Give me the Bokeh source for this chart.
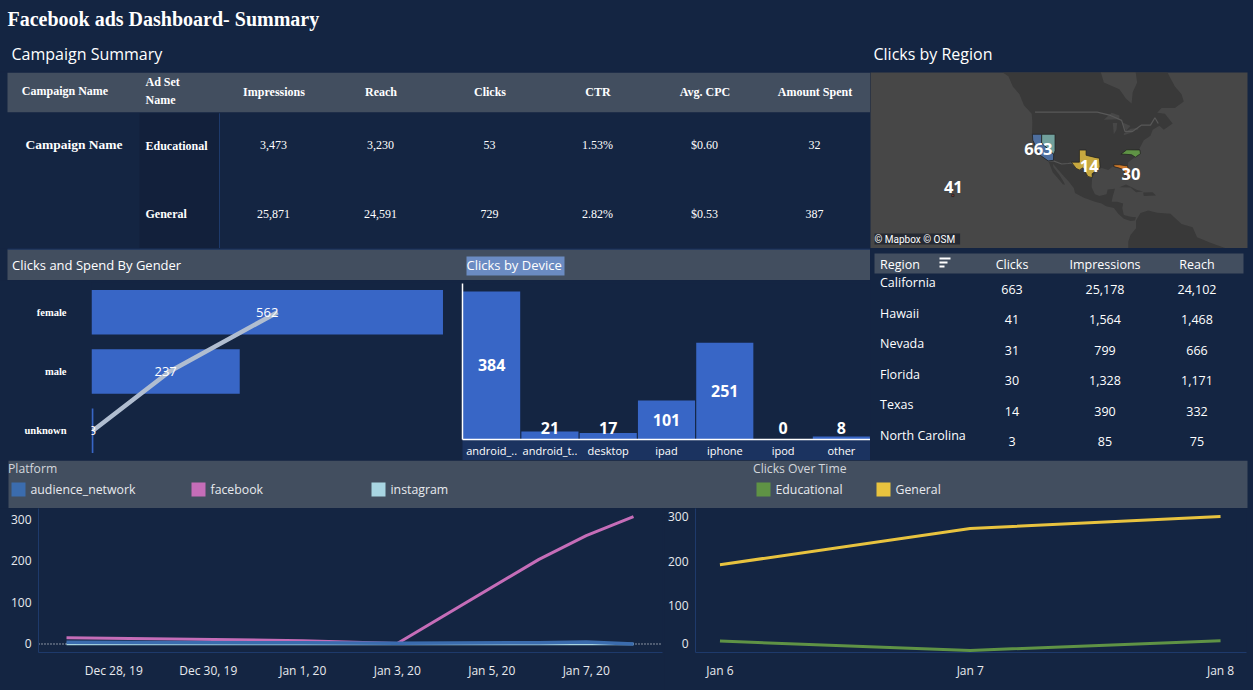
import math
import pandas as pd
from bokeh.plotting import figure
from bokeh.layouts import column, row
from bokeh.models import Range1d, FactorRange, FixedTicker, Span, DatetimeTickFormatter, Label
from bokeh.core.properties import value
from bokeh.embed import file_html
from bokeh.resources import INLINE

# ---------- data ----------
summary_columns = ["Impressions", "Reach", "Clicks", "CTR", "Avg. CPC", "Amount Spent"]
ad_sets = ["Educational", "General"]
educational_row = ["3,473", "3,230", "53", "1.53%", "$0.60", "32"]
general_row = ["25,871", "24,591", "729", "2.82%", "$0.53", "387"]

genders = ["female", "male", "unknown"]
gender_clicks = [562, 237, 3]
gender_spend = [293, 123, 2]

devices = ["android_..", "android_t..", "desktop", "ipad", "iphone", "ipod", "other"]
device_clicks = [384, 21, 17, 101, 251, 0, 8]

regions = ["California", "Hawaii", "Nevada", "Florida", "Texas", "North Carolina"]
region_clicks = ["663", "41", "31", "30", "14", "3"]
region_impressions = ["25,178", "1,564", "799", "1,328", "390", "85"]
region_reach = ["24,102", "1,468", "666", "1,171", "332", "75"]

platform_dates = ["2019-12-27", "2020-01-01", "2020-01-03", "2020-01-06", "2020-01-07", "2020-01-08"]
facebook = [15, 8, 1, 204, 261, 307]
audience_network = [4, 3, 2, 3, 5, 0]
instagram = [0, 0, 0, 0, 0, 0]
platform_ticks = ["2019-12-28", "2019-12-30", "2020-01-01", "2020-01-03", "2020-01-05", "2020-01-07"]

campaign_dates = ["2020-01-06", "2020-01-07", "2020-01-08"]
general_clicks = [192, 273, 300]
educational_clicks = [21, 0, 22]

# map shapes, (lon, lat)
land_north_america = [(-141,60.5),(-135,58.5),(-133,56),(-130,54),(-128,51),(-124.5,48.5),(-124.2,46),(-124.4,42),(-124,40),(-122.5,37.5),(-120.5,34.5),(-117.2,32.5),(-114.5,31),(-112.5,29),(-110,26.5),(-108,24.5),(-105.5,21.5),(-105,19.5),(-101,17.5),(-96,15.8),(-93,15),(-91,13.8),(-87.5,13),(-85.5,10.5),(-83,8.3),(-80,7.3),(-78,7.5),(-77.5,9),(-80,9.2),(-83,10),(-83.7,13),(-83.3,15),(-86,15.8),(-88.5,15.8),(-88,18),(-87,21.3),(-90.3,21),(-90.8,19),(-94,18.2),(-96,19),(-97.5,22),(-97.3,26),(-95,29),(-93,29.7),(-90,29),(-88,30.3),(-85,29.7),(-83,28.8),(-82.7,27),(-81,25.2),(-80.2,26),(-81.3,30),(-81,32),(-78,33.9),(-75.7,35.3),(-76,37),(-74,40),(-71,41.5),(-70,43.5),(-67,44.8),(-65,43.5),(-61,45.5),(-64.5,48.5),(-68,48.8),(-66,50.2),(-60,50.2),(-56,52),(-57,54),(-60,56),(-62,58),(-64.5,60.5)]
land_baja = [(-117,32.5),(-115,31.5),(-114.7,30),(-112,27),(-110,24),(-109.5,23),(-110.5,23.2),(-112.5,25.5),(-115,28)]
land_south_america = [(-81,-6),(-81,-2),(-80,1),(-77.5,4),(-77.5,7.5),(-75.5,10.8),(-72,12),(-68,11),(-62,10.5),(-57,6),(-52,4.5),(-50,0),(-44,-2.5),(-37,-5),(-35,-6)]
land_cuba = [(-85,22),(-82,23.1),(-77,20.8),(-74.3,20.2),(-77.5,19.9),(-80,21.8)]
land_hispaniola = [(-74.3,19.7),(-70,19.9),(-68.5,18.5),(-74,18.2)]
land_hawaii_small = [(-164,21),(-162.5,21),(-162.5,20.4),(-164,20.4)]
water_hudson = [(-94,60.5),(-92,57),(-85,55.3),(-82,52.8),(-79.5,51.5),(-79,54.5),(-77,57),(-78,60.5)]
water_michigan = [(-87.5,42),(-86.3,43.5),(-86,45.7),(-88,45.7)]
water_superior = [(-92,46.7),(-85,46.8),(-85,48),(-88.5,48.8)]
water_huron = [(-84,46),(-82,43.2),(-80,44.7)]
water_erie = [(-83,41.7),(-79,42.7),(-79,43.3),(-76.5,43.6),(-76.5,44.1),(-80,43.8),(-83,42.3)]
border_canada = [(-123,49),(-95,49),(-89,48),(-84,46.5),(-82.5,43),(-79,43),(-75,45),(-71,45),(-69,47.3),(-67.5,45.5)]
border_mexico = [(-117,32.5),(-114.7,32.5),(-111,31.3),(-108,31.5),(-106.5,31.7),(-103,29),(-101,29.8),(-99,26.4),(-97.2,25.9)]
state_california = [(-124.2,42),(-120,42),(-120,39),(-114.6,35),(-114.7,32.7),(-117.1,32.5),(-120.5,34.5),(-122.5,37.5),(-124,40)]
state_nevada = [(-120,42),(-114,42),(-114,36.2),(-114.6,35),(-120,39)]
state_texas = [(-106.6,32),(-103,32),(-103,36.5),(-100,36.5),(-100,34.6),(-96,33.8),(-94,33.5),(-93.7,30),(-95,29),(-97.3,27.5),(-97.2,25.9),(-99.2,26.4),(-101.4,29.8),(-103,29),(-104.5,29.6)]
state_florida = [(-87.5,31),(-85,31),(-82,30.6),(-81.4,30.7),(-80.2,26.5),(-80.4,25.2),(-81.1,25.2),(-82.7,27.7),(-83,29),(-85,29.7),(-87.5,30.3)]
state_nc = [(-84.3,35),(-81.7,36.6),(-75.8,36.55),(-75.5,35.2),(-77.8,33.9),(-79.5,34.8),(-83,35)]
state_hawaii = [(-160.5,19),(-159.5,19),(-159.5,18),(-160.5,18)]
map_label_text = ["663", "14", "30", "41"]
map_label_lon = [-121.5, -98.6, -79.8, -159.8]
map_label_lat = [37.0, 30.7, 27.2, 22.2]

# ---------- style ----------
BG = "#142542"
BAND = "#424e5f"
BAR = "#3866c6"
AXIS = "#1e3a6b"
SANS = "Open Sans"
SERIF = "Liberation Serif"


def merc(lat):
    return math.degrees(math.log(math.tan(math.radians(45 + lat / 2))))


def project(points):
    return [p[0] for p in points], [merc(p[1]) for p in points]


def base(width, height, **kw):
    fig = figure(width=width, height=height, output_backend="svg", toolbar_location=None,
                 background_fill_color=BG, border_fill_color=BG, outline_line_color=None,
                 min_border=0, **kw)
    fig.grid.visible = False
    return fig


def chrome(x0, x1, y0, y1):
    """A panel drawn in page pixels, for headers and table texts."""
    return base(x1 - x0, y1 - y0, x_range=Range1d(x0, x1), y_range=Range1d(y1, y0),
                x_axis_type=None, y_axis_type=None)


def put(fig, x, y, txt, size=12, color="#ffffff", font=SANS, style="normal", align="left"):
    fig.text(x=[x], y=[y], text=[txt], text_font=value(font), text_font_size=f"{size}px",
             text_font_style=style, text_color=color, text_align=align, text_baseline="middle")


# ---------- page header ----------
head = chrome(0, 1253, 0, 72)
put(head, 8, 19, "Facebook ads Dashboard- Summary", 20, font=SERIF, style="bold")
put(head, 12, 54, "Campaign Summary", 16)
put(head, 874, 54, "Clicks by Region", 16)

# ---------- campaign table ----------
table = chrome(0, 871, 72, 249)
table.quad(left=[8], right=[871], top=[72], bottom=[112], fill_color=BAND, line_color=None)
table.quad(left=[140], right=[220], top=[113], bottom=[249], fill_color="#12203b", line_color=None)
table.line(x=[220, 220], y=[113, 249], line_color=AXIS, line_width=1)
put(table, 65.5, 91, "Campaign Name", 12, font=SERIF, style="bold", align="center")
put(table, 146, 82, "Ad Set", 12, font=SERIF, style="bold")
put(table, 146, 100, "Name", 12, font=SERIF, style="bold")
col_x = [274.5, 381.5, 490.5, 598.5, 705.5, 815.5]
for x, name in zip(col_x, summary_columns):
    put(table, x, 92, name, 12, font=SERIF, style="bold", align="center")
put(table, 74.5, 144, "Campaign Name", 13.5, font=SERIF, style="bold", align="center")
for y, name, vals in zip([145, 214], ad_sets, [educational_row, general_row]):
    put(table, 146, y + 1 if name == "Educational" else y, name, 12, font=SERIF, style="bold")
    for x, v in zip(col_x, vals):
        put(table, x - 0.5, y, v, 12, font=SERIF, align="center")

# ---------- map ----------
MAP_X = (-197.1, -27.3)
MAP_Y = (-5.08, 74.2)
geo = base(382, 177, x_range=Range1d(*MAP_X), y_range=Range1d(*MAP_Y),
           x_axis_type=None, y_axis_type=None)
geo.min_border_right = 5
geo.min_border_top = 1
geo.background_fill_color = "#474747"
for shape in [land_north_america, land_baja, land_south_america, land_cuba, land_hispaniola, land_hawaii_small]:
    xs, ys = project(shape)
    geo.patch(xs, ys, fill_color="#393939", line_color=None)
for shape in [water_hudson, water_michigan, water_superior, water_huron, water_erie]:
    xs, ys = project(shape)
    geo.patch(xs, ys, fill_color="#474747", line_color=None)
for shape in [border_canada, border_mexico]:
    xs, ys = project(shape)
    geo.line(xs, ys, line_color="#585858", line_width=1.2)
for shape, col in [(state_california, "#4e6f9f"), (state_nevada, "#71a09c"), (state_texas, "#c7a83f"),
                   (state_florida, "#cf7a2a"), (state_nc, "#5f9345"), (state_hawaii, "#8a3a32")]:
    xs, ys = project(shape)
    geo.patch(xs, ys, fill_color=col, line_color="#1d1d1d", line_width=0.7)
geo.text(x=map_label_lon, y=[merc(v) for v in map_label_lat], text=map_label_text,
         text_font=value(SANS), text_font_size="16.5px", text_font_style="bold", text_color="#ffffff",
         text_align="center", text_baseline="middle")
geo.add_layout(Label(x=MAP_X[0], y=MAP_Y[0], x_offset=4, y_offset=4, text="\u00a9 Mapbox   \u00a9 OSM",
                     text_font="Roboto", text_font_size="10px", text_color="#ffffff",
                     background_fill_color="#262a33", text_baseline="bottom"))

# ---------- section band ----------
band = chrome(0, 871, 249, 281)
band.quad(left=[8], right=[871], top=[250], bottom=[281], fill_color=BAND, line_color=None)
band.line(x=[8, 871], y=[249.5, 249.5], line_color=AXIS, line_width=1)
band.quad(left=[467], right=[565], top=[257], bottom=[276], fill_color="#6b8bc2", line_color=None)
put(band, 12.5, 265, "Clicks and Spend By Gender", 13)
put(band, 467, 265, "Clicks by Device", 13)

# ---------- gender ----------
gender = base(461, 180, x_range=Range1d(0, 590), y_range=FactorRange(factors=genders[::-1], range_padding=0),
              x_axis_type=None)
gender.min_border_left = 92
gender.min_border_top = 2
gender.extra_x_ranges = {"spend": Range1d(0, 581)}
gender.hbar(y=genders, right=gender_clicks, height=0.75, fill_color=BAR, line_color=None)
gender.line(x=gender_spend, y=genders, x_range_name="spend", line_color="#b0bdd0", line_width=4.5)
gender.text(x=[v / 2 for v in gender_clicks], y=genders, text=[str(v) for v in gender_clicks],
            text_font=value(SANS), text_font_size="13px", text_color="#ffffff",
            text_align="center", text_baseline="middle")
ax = gender.yaxis[0]
ax.axis_line_color = None
ax.major_tick_line_color = None
ax.minor_tick_line_color = None
ax.major_tick_out = 0
ax.major_label_standoff = 25
ax.major_label_text_font = SERIF
ax.major_label_text_font_style = "bold"
ax.major_label_text_font_size = "10.5px"
ax.major_label_text_color = "#ffffff"

# ---------- device ----------
device = base(410, 180, x_range=FactorRange(factors=devices, range_padding=0), y_range=Range1d(0, 404.6))
device.min_border_left = 2
device.min_border_top = 3
device.min_border_bottom = 20
device.vbar(x=devices, top=device_clicks, width=0.98, fill_color=BAR, line_color=None)
device.text(x=devices, y=[max(v / 2, 31) for v in device_clicks], text=[str(v) for v in device_clicks],
            text_font=value(SANS), text_font_size="16px", text_font_style="bold", text_color="#ffffff",
            text_align="center", text_baseline="middle")
ax = device.xaxis[0]
ax.axis_line_color = "#ffffff"
ax.axis_line_width = 1.5
ax.major_tick_line_color = None
ax.minor_tick_line_color = None
ax.major_tick_out = 0
ax.major_label_standoff = 3
ax.major_label_text_font = SANS
ax.major_label_text_font_size = "11px"
ax.major_label_text_color = "#ffffff"
ax.background_fill_color = "#1b3360"
ay = device.yaxis[0]
ay.ticker = FixedTicker(ticks=[])
ay.axis_line_color = "#ffffff"
ay.axis_line_width = 1.5
ay.major_tick_line_color = None
ay.minor_tick_line_color = None
ay.major_tick_out = 0

# ---------- region table ----------
rt = chrome(871, 1253, 248, 460)
rt.quad(left=[875], right=[1244], top=[253], bottom=[273], fill_color=BAND, line_color=None)
put(rt, 880.5, 263.5, "Region", 12.5)
rt.multi_line(xs=[[940, 951], [940, 948], [940, 945]], ys=[[258, 258], [262, 262], [266, 266]],
              line_color="#ffffff", line_width=2)
rcol = [1012.5, 1105.5, 1197.5]
for x, name in zip(rcol, ["Clicks", "Impressions", "Reach"]):
    put(rt, x, 263.5, name, 12.5, align="center")
row_label_y = [281.5, 312.5, 342.5, 373.5, 403.5, 434.5]
row_value_y = [288.5, 318.5, 349.5, 379.5, 410.5, 440.5]
for i, name in enumerate(regions):
    put(rt, 880.5, row_label_y[i], name, 12.5)
    for x, col in zip(rcol, [region_clicks, region_impressions, region_reach]):
        put(rt, x, row_value_y[i], col[i], 12.5, align="center")

# ---------- legend band ----------
leg = chrome(-1, 1252, 460, 508)
leg.quad(left=[8], right=[1247], top=[460], bottom=[508], fill_color=BAND, line_color=None)
put(leg, 7.5, 468, "Platform", 12.2, color="#d2d6dc")
put(leg, 752.5, 468, "Clicks Over Time", 12.2, color="#d2d6dc")
for x, name, col in [(11, "audience_network", "#3b6cae"), (191, "facebook", "#c56db8"),
                     (371, "instagram", "#a8d5e2"), (756, "Educational", "#5f9345"), (876, "General", "#e8c33f")]:
    leg.quad(left=[x], right=[x + 14], top=[482], bottom=[496], fill_color=col, line_color=None)
    put(leg, x + 19, 488.5, name, 12.3, color="#e8eaee")

# ---------- line charts ----------
DAY = pd.Timedelta(days=1)


def style_line_axes(fig, tick_dates, fmt):
    axx = fig.xaxis[0]
    axx.ticker = FixedTicker(ticks=[pd.Timestamp(d).timestamp() * 1000 for d in tick_dates])
    axx.formatter = DatetimeTickFormatter(days=fmt, hours=fmt, months=fmt, years=fmt, context=None)
    axx.major_label_standoff = 9
    for a in (fig.xaxis[0], fig.yaxis[0]):
        a.axis_line_color = AXIS
        a.major_tick_line_color = None
        a.minor_tick_line_color = None
        a.major_tick_out = 0
        a.major_label_text_font = SANS
        a.major_label_text_font_size = "12px"
        a.major_label_text_color = "#e8eaee"
    fig.yaxis[0].major_label_standoff = 7


x0 = pd.Timestamp(platform_dates[0]) - 0.593 * DAY
x1 = pd.Timestamp(platform_dates[-1]) + 0.614 * DAY
left = base(665, 182, x_axis_type="datetime", x_range=Range1d(x0, x1), y_range=Range1d(-20.5, 326.5))
left.min_border_left = 39
left.min_border_right = 2
left.min_border_bottom = 38
left.add_layout(Span(location=0, dimension="width", line_color="#ffffff", line_dash="1 2", line_width=1,
                     level="underlay"))
pdates = pd.to_datetime(platform_dates)
left.line(pdates, facebook, line_color="#c56db8", line_width=3)
left.line(pdates, instagram, line_color="#a8d5e2", line_width=2.5)
left.line(pdates, audience_network, line_color="#3b6cae", line_width=3.5)
left.yaxis[0].ticker = FixedTicker(ticks=[0, 100, 200, 300])
style_line_axes(left, platform_ticks, "%b %-d, %y")

rx0 = pd.Timestamp(campaign_dates[0]) - 0.0977 * DAY
rx1 = pd.Timestamp(campaign_dates[-1]) + 0.1037 * DAY
right = base(588, 182, x_axis_type="datetime", x_range=Range1d(rx0, rx1), y_range=Range1d(-4.5, 317.9))
right.min_border_left = 31
right.min_border_right = 6
right.min_border_bottom = 38
cdates = pd.to_datetime(campaign_dates)
right.line(cdates, general_clicks, line_color="#e8c33f", line_width=3)
right.line(cdates, educational_clicks, line_color="#5f9345", line_width=3)
# the 0 label sits above the axis floor, as the reference keeps it inside the pane
right.yaxis[0].ticker = FixedTicker(ticks=[16, 100, 200, 300])
right.yaxis[0].major_label_overrides = {16: "0"}
style_line_axes(right, campaign_dates, "%b %-d")

# ---------- page ----------
page = column(
    head,
    row(table, geo),
    row(column(band, row(column(gender), column(device))), rt),
    leg,
    row(left, right),
    styles={"position": "relative", "left": "-1px", "top": "-1px"},
)

html = file_html(page, INLINE, title="Facebook ads Dashboard- Summary")
html = html.replace("<head>", f"<head><style>html,body{{margin:0;padding:0;background:{BG};overflow:hidden}}</style>", 1)
open("out.html", "w").write(html)
